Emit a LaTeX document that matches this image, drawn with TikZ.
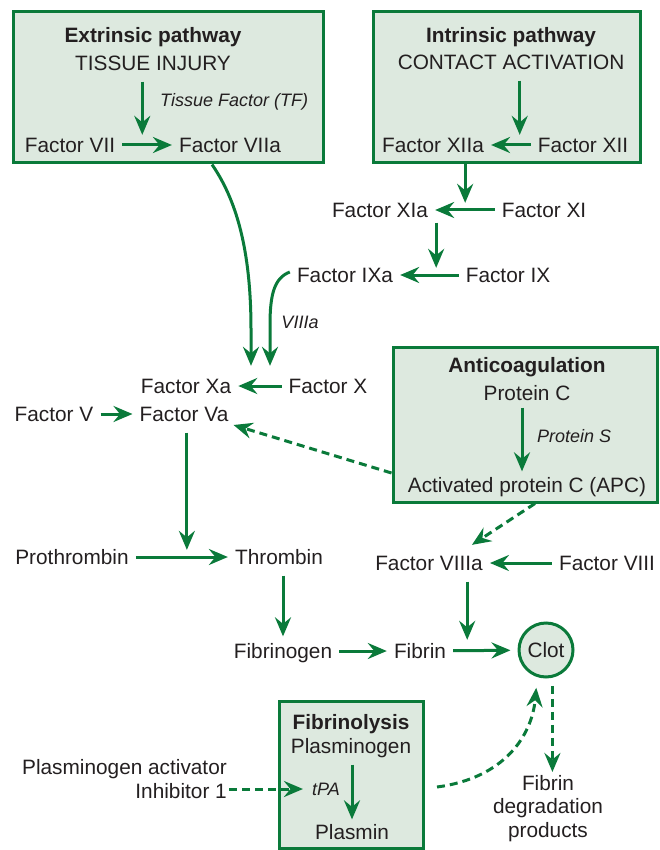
\documentclass[tikz,border=0pt]{standalone}
\usepackage{fontspec}
\setmainfont{Liberation Sans}
\usetikzlibrary{arrows.meta,calc}
\definecolor{grn}{RGB}{10,122,58}
\definecolor{boxfill}{RGB}{221,233,223}
\definecolor{txt}{RGB}{35,31,32}
\begin{document}
\begin{tikzpicture}[x=1pt,y=-1pt,
  lbl/.style={inner sep=0pt, text=txt, font={\fontsize{20.8}{23.5}\selectfont}, text height=18.9pt, text depth=4pt},
  mlbl/.style={inner sep=0pt, text=txt, font={\fontsize{20.8}{23.5}\selectfont}},
  ttl/.style={lbl, font={\fontsize{20.8}{23.5}\selectfont\bfseries}},
  itl/.style={inner sep=0pt, text=txt, font={\fontsize{18}{21}\selectfont\itshape}, text height=16.5pt, text depth=3.5pt},
  panel/.style={draw=grn, fill=boxfill, line width=3pt, inner sep=0pt},
  arr/.style={draw=grn, line width=3pt, -{Stealth[length=19pt,width=16pt,inset=6.5pt]}, shorten <=7pt, shorten >=7pt},
  darr/.style={arr, dash pattern=on 8pt off 5pt},
]
\useasboundingbox (0,0) rectangle (659,850);

% panels
\node[panel, minimum width=310pt, minimum height=151pt] (extbox) at (168,87.5) {};
\node[panel, minimum width=267pt, minimum height=151pt] (intbox) at (506.5,87.5) {};
\node[panel, minimum width=264pt, minimum height=155pt] (antibox) at (525,424.5) {};
\node[panel, minimum width=144pt, minimum height=147pt] (fibbox) at (351,774.5) {};

% extrinsic
\node[ttl] (extt) at (153,35) {Extrinsic pathway};
\node[lbl] (ti) at (153,63) {TISSUE INJURY};
\node[itl, anchor=west] (tf) at (160,100) {Tissue Factor (TF)};
\node[lbl] (f7) at (70,145) {Factor VII};
\node[lbl] (f7a) at (230,145) {Factor VIIa};

% intrinsic
\node[ttl] (intt) at (511,35) {Intrinsic pathway};
\node[lbl] (ca) at (511,62) {CONTACT ACTIVATION};
\node[lbl] (f12a) at (433,145) {Factor XIIa};
\node[lbl] (f12) at (583,145) {Factor XII};
\node[lbl] (f11a) at (380,210) {Factor XIa};
\node[lbl] (f11) at (544,210) {Factor XI};
\node[lbl] (f9a) at (345,275) {Factor IXa};
\node[lbl] (f9) at (508,275) {Factor IX};
\node[itl] (v8a) at (300,322) {VIIIa};

% common
\node[lbl] (f10a) at (186,386) {Factor Xa};
\node[lbl] (f10) at (328,386) {Factor X};
\node[lbl] (f5) at (54,414) {Factor V};
\node[lbl] (f5a) at (184,414) {Factor Va};
\node[lbl] (proth) at (72,557) {Prothrombin};
\node[lbl] (thr) at (279,557) {Thrombin};
\node[lbl] (fbg) at (283,651) {Fibrinogen};
\node[lbl] (fbn) at (420,651) {Fibrin};
\node[lbl, draw=grn, fill=boxfill, line width=3pt, circle, minimum size=54pt, text height=15pt, text depth=0pt] (clot) at (546,650) {Clot};
\node[mlbl, align=center, anchor=north] (fdp) at (548,775) {Fibrin\\degradation\\products};

% anticoagulation
\node[ttl] (antt) at (527,365) {Anticoagulation};
\node[lbl] (pc) at (527,393) {Protein C};
\node[itl, anchor=west] (ps) at (537,436) {Protein S};
\node[lbl] (apc) at (527,485) {Activated protein C (APC)};
\node[lbl] (f8a) at (429,563) {Factor VIIIa};
\node[lbl] (f8) at (607,563) {Factor VIII};

% fibrinolysis
\node[ttl] (fibt) at (351,722) {Fibrinolysis};
\node[lbl] (plg) at (351,746) {Plasminogen};
\node[itl] (tpa) at (326,789) {tPA};
\node[lbl] (plm) at (352,832) {Plasmin};
\node[mlbl, align=right, anchor=north east, font={\fontsize{20.8}{24}\selectfont}] (pai) at (227,759.5) {Plasminogen activator\\Inhibitor 1};

% junction coordinates
\coordinate (j1) at ([shift={(27,1.5)}]f7.north east);
\coordinate (j2) at ([shift={(-18,1.5)}]f12.north west);
\coordinate (j3) at ([shift={(37,4.5)}]f11a.north east);
\coordinate (j4) at ([shift={(43,4.5)}]f9a.north east);
\coordinate (j5) at ([shift={(-48,4.5)}]thr.north west);
\coordinate (j6) at ([shift={(21,0.5)}]fbn.north east);
\coordinate (j7) at ([shift={(65,-8.5)}]f10a.north);
\coordinate (j8) at ([shift={(84,-8.5)}]f10a.north);
\coordinate (fs) at (437,787);
\coordinate (pe) at (229,789);

% extrinsic arrows
\draw[arr, shorten >=0pt] (ti.south -| j1) -- (j1);
\draw[arr] (f7) -- (f7a);
\draw[arr, shorten <=0pt, shorten >=0pt] (extbox.south -| 212,0) .. controls (240,205) and (251,260) .. (251,330) -- (j7);

% intrinsic arrows
\draw[arr, shorten >=0pt] (ca.south -| j2) -- (j2);
\draw[arr] (f12) -- (f12a);
\draw[arr, shorten <=0pt, shorten >=0pt] (intbox.south -| j3) -- (j3);
\draw[arr] (f11) -- (f11a);
\draw[arr, shorten <=1pt, shorten >=0pt] (f11a.south -| j4) -- (j4);
\draw[arr] (f9) -- (f9a);
\draw[arr, shorten <=0pt, shorten >=0pt] ([shift={(-7,-3)}]f9a.west) .. controls (274,278) and (270,295) .. (270,325) -- (j8);

% common pathway
\draw[arr] (f10) -- (f10a);
\draw[arr] (f5) -- (f5a);
\draw[arr, shorten >=0pt] (f5a.south -| j5) -- (j5);
\draw[arr] (proth) -- (thr);
\draw[arr, shorten >=3pt] (thr.south -| fbg.north) -- (fbg.north);
\draw[arr] (fbg) -- (fbn);
\draw[arr] (fbn) -- (clot);

% anticoagulation
\draw[arr, shorten <=3pt, shorten >=2pt] ([xshift=-5pt]pc.south) -- ([xshift=-5pt]apc.north);
\draw[darr, shorten <=0pt, shorten >=0pt] (antibox.west |- 0,473) -- ([shift={(5,11)}]f5a.east);
\draw[darr, shorten <=0pt, shorten >=0pt] (antibox.south -| 535,0) -- ([shift={(-11,-6.5)}]f8a.north east);
\draw[arr] (f8) -- (f8a);
\draw[arr, shorten >=0pt] (f8a.south -| j6) -- (j6);

% fibrinolysis
\draw[arr, shorten >=1pt] (plg.south -| plm.north) -- (plm.north);
\draw[darr, shorten <=0pt, shorten >=9pt] (pe) -- (tpa.west |- pe);
\draw[darr, shorten <=0pt, shorten >=0pt] (fs) .. controls (505,778) and (532,735) .. ([yshift=-11pt]clot.250);
\draw[darr, shorten <=8pt, shorten >=3pt] (clot.283) -- (fdp.north -| clot.283);
\end{tikzpicture}
\end{document}
